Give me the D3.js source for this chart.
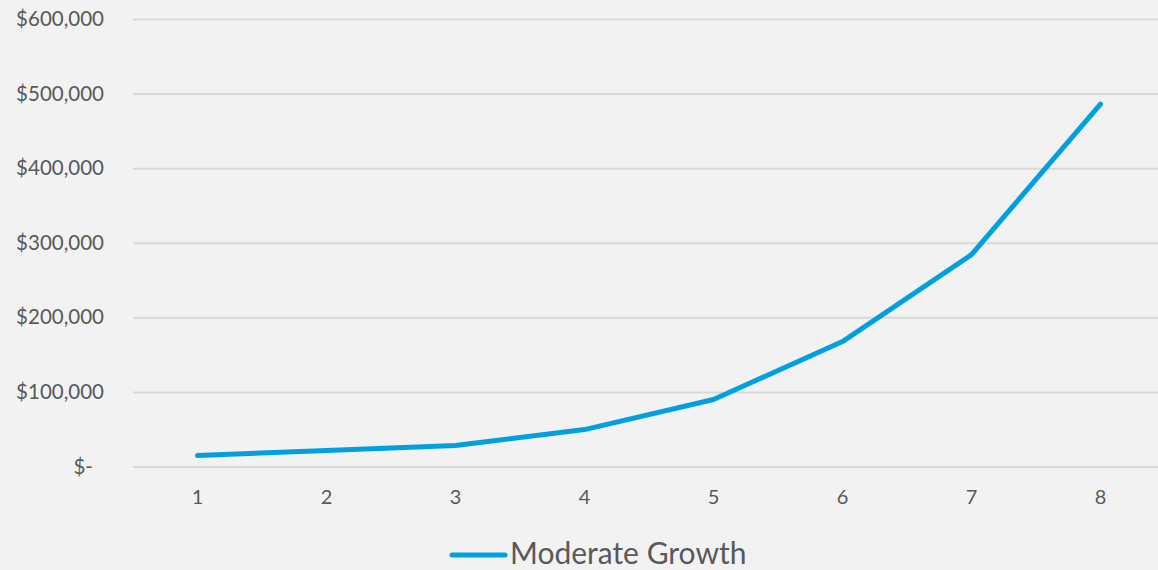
<!DOCTYPE html>
<html>
<head>
<meta charset="utf-8">
<script src="https://cdn.jsdelivr.net/npm/d3@7"></script>
<style>
  body { margin: 0; background: #f2f2f2; }
  svg { display: block; }
  svg text { font-family: Lato, "Open Sans", sans-serif; fill: #595959; }
</style>
</head>
<body>
<div id="chart"></div>
<script>
const width = 1158;
const height = 570;

const years = [1, 2, 3, 4, 5, 6, 7, 8];
const moderateGrowth = [14700, 21400, 28100, 49500, 89800, 167500, 284000, 486000];
const yTicks = [0, 100000, 200000, 300000, 400000, 500000, 600000];
const yTickLabels = ["$-", "$100,000", "$200,000", "$300,000", "$400,000", "$500,000", "$600,000"];
const seriesName = "Moderate Growth";

const margin = {top: 19, right: -7, bottom: 104, left: 133};

const svg = d3.select("#chart").append("svg")
   .attr("width", width)
   .attr("height", height);

svg.append("rect")
   .attr("width", width)
   .attr("height", height)
   .attr("fill", "#f2f2f2");

const x = d3.scaleBand()
   .domain(years)
   .range([margin.left, width - margin.right]);

const y = d3.scaleLinear()
   .domain([0, 600000])
   .range([height - margin.bottom + 0.5, margin.top]);

// gridlines + y labels
const yAxis = svg.append("g")
   .attr("transform", `translate(${margin.left},0)`)
   .call(d3.axisLeft(y)
      .tickValues(yTicks)
      .tickSize(-(width - margin.left))
      .tickPadding(29)
      .tickFormat((d, i) => yTickLabels[i]));

yAxis.select(".domain").remove();
yAxis.selectAll(".tick line")
   .attr("stroke", "#d9d9d9")
   .attr("stroke-width", 2);
yAxis.selectAll(".tick text")
   .style("font-size", "20.5px")
   .attr("dx", d => d === 0 ? -11 : 0);

// x labels
const xAxis = svg.append("g")
   .attr("transform", `translate(0,${y(0)})`)
   .call(d3.axisBottom(x).tickSize(0).tickPadding(23));

xAxis.select(".domain").remove();
xAxis.selectAll(".tick text").style("font-size", "20px");

const line = d3.line()
   .x((d, i) => x(years[i]) + x.bandwidth() / 2)
   .y(d => y(d));

svg.append("path")
   .datum(moderateGrowth)
   .attr("fill", "none")
   .attr("stroke", "#00a0e0")
   .attr("stroke-width", 5)
   .attr("stroke-linecap", "round")
   .attr("stroke-linejoin", "round")
   .attr("d", line);

// legend
const legend = svg.append("g").attr("transform", "translate(452,555)");
legend.append("line")
   .attr("x1", 0).attr("x2", 53)
   .attr("stroke", "#00a0e0")
   .attr("stroke-width", 5)
   .attr("stroke-linecap", "round");
legend.append("text")
   .attr("x", 58)
   .attr("y", 9)
   .style("font-size", "30px")
   .text(seriesName);
</script>
</body>
</html>
